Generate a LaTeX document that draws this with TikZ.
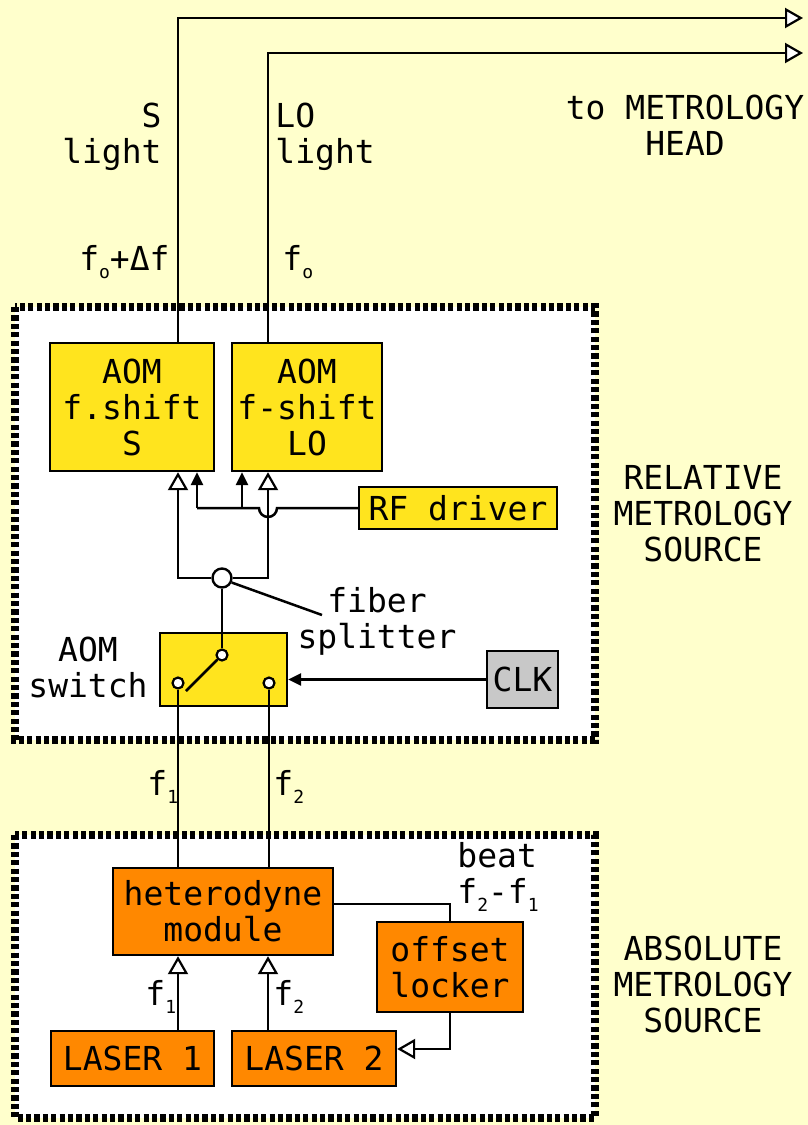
\documentclass[tikz,border=0pt]{standalone}
\usepackage{fontspec}
\setmainfont{DejaVu Sans Mono}
\usetikzlibrary{arrows.meta,calc}
\definecolor{bg}{RGB}{255,255,204}
\definecolor{aomyel}{RGB}{255,228,30}
\definecolor{laseror}{RGB}{255,136,0}
\definecolor{clkgray}{RGB}{200,200,200}
\newcommand\sbs[1]{\raisebox{-4pt}{\fontsize{9}{9}\selectfont #1}}
\begin{document}
\begin{tikzpicture}[x=0.5pt,y=-0.5pt,font=\fontsize{16.5}{18}\selectfont,
  box/.style={draw, line width=1.2pt, align=center, inner sep=0pt},
  yb/.style={box, fill=aomyel},
  ob/.style={box, fill=laseror},
  conn/.style={line width=1.25pt},
  oarr/.style={conn, -{Triangle[fill=white,length=9pt,width=10pt,line width=1.1pt]}},
  farr/.style={conn, -{Triangle[length=6.5pt,width=6pt]}},
  region/.style={draw, fill=white, line width=4pt, dash pattern=on 2.6pt off 1.6pt},
  lbl/.style={align=center, inner sep=0pt},
  swpin/.style={circle, draw, fill=white, line width=1.1pt, minimum size=5.5pt, inner sep=0pt}]
\useasboundingbox (0,0) rectangle (808,1125);
\fill[bg] (0,0) rectangle (808,1125);
% regions
\draw[region] (15,307) rectangle (595,740);
\draw[region] (15,835) rectangle (595,1118);
% boxes
\node[yb, minimum width=82pt, minimum height=64pt] (aomS) at (132,407) {AOM\\f.shift\\S};
\node[yb, minimum width=75pt, minimum height=64pt] (aomLO) at (307,407) {AOM\\f-shift\\LO};
\node[yb, minimum width=99pt, minimum height=21pt] (rf) at (458,508) {RF driver};
\node[yb, minimum width=63.5pt, minimum height=36.5pt] (sw) at (223.5,669.5) {};
\node[box, fill=clkgray, minimum width=35.5pt, minimum height=28.5pt] (clk) at (522.5,679.5) {CLK};
\node[ob, minimum width=110pt, minimum height=43.5pt] (het) at (223,911.5) {heterodyne\\module};
\node[ob, minimum width=73pt, minimum height=45pt] (off) at (450,967) {offset\\locker};
\node[ob, minimum width=81.5pt, minimum height=27.5pt] (las1) at (132.5,1058.5) {LASER 1};
\node[ob, minimum width=82pt, minimum height=27.5pt] (las2) at (314,1058.5) {LASER 2};
\node[circle, draw, fill=white, line width=1.2pt, minimum size=9.5pt, inner sep=0pt] (split) at (222,578) {};
\node[swpin] (pT) at (222,655) {};
\node[swpin] (pL) at (178,683) {};
\node[swpin] (pR) at (269,683) {};
% coordinates
\coordinate (xS) at (178,0);
\coordinate (xLO) at (268,0);
\coordinate (xFS) at (197,0);
\coordinate (xFL) at (242,0);
\coordinate (outS) at (803,18);
\coordinate (outLO) at (803,53);
\coordinate (hopR) at (277,508);
\coordinate (jL) at (242,508);
\coordinate (jS) at (197,508);
\coordinate (lev) at (186,691);
\coordinate (leadB) at (322,615);
\coordinate (beatY) at (0,904);
\coordinate (lockY) at (0,1049);
% connectors
\draw[oarr] (aomS.north -| xS) |- (outS);
\draw[oarr] (aomLO.north -| xLO) |- (outLO);
\draw[oarr] (split.west) -| (aomS.south -| xS);
\draw[oarr] (split.east) -| (aomLO.south -| xLO);
\draw[conn] (rf.west) -- (hopR) arc[start angle=0,end angle=180,radius=9] -- (jS);
\draw[farr] (jS) -- (aomS.south -| xFS);
\draw[farr] (jL) -- (aomLO.south -| xFL);
\draw[conn] (split.south) -- (pT.north);
\draw[conn] (lev) -- (pT.south west);
\draw[conn] (split.-25) -- (leadB);
\draw[farr] (clk.west) -- (sw.east |- clk.west);
\draw[conn] (pL.south) -- (het.north -| pL);
\draw[conn] (pR.south) -- (het.north -| pR);
\draw[conn] (het.east |- beatY) -| (off.north);
\draw[oarr] (off.south) |- (las2.east |- lockY);
\draw[oarr] (las1.north -| xS) -- (het.south -| xS);
\draw[oarr] (las2.north -| xLO) -- (het.south -| xLO);
% labels
\node[lbl, anchor=east, align=right] (lS) at (162,137) {S\\light};
\node[lbl, anchor=west, align=left] (lLO) at (275,137) {LO\\light};
\node[lbl] (lhead) at (685,125) {to METROLOGY\\HEAD};
\node[lbl, anchor=base east] (fS) at (170,270) {f\sbs{o}+Δf};
\node[lbl, anchor=base west] (fLO) at (282,270) {f\sbs{o}};
\node[lbl] (lrel) at (703,514) {RELATIVE\\METROLOGY\\SOURCE};
\node[lbl] (lsplit) at (377,621) {fiber\\splitter};
\node[lbl] (lsw) at (88,667) {AOM\\switch};
\node[lbl, anchor=base west] (f1a) at (147,795) {f\sbs{1}};
\node[lbl, anchor=base west] (f2a) at (273,795) {f\sbs{2}};
\node[lbl, align=left, anchor=west] (lbeat) at (457,877) {beat\\f\sbs{2}-f\sbs{1}};
\node[lbl] (labs) at (703,984) {ABSOLUTE\\METROLOGY\\SOURCE};
\node[lbl, anchor=base west] (f1b) at (145,1005) {f\sbs{1}};
\node[lbl, anchor=base west] (f2b) at (273,1005) {f\sbs{2}};
\end{tikzpicture}
\end{document}
